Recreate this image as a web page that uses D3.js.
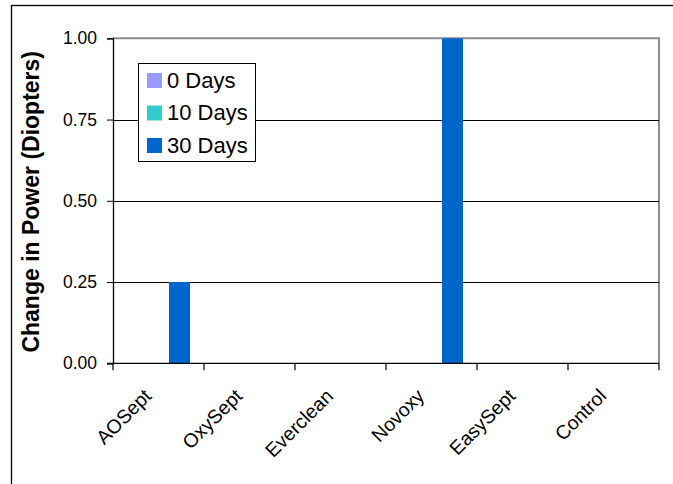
<!DOCTYPE html>
<html><head><meta charset="utf-8">
<script src="https://cdn.jsdelivr.net/npm/d3@7"></script>
<style>html,body{margin:0;padding:0;background:#fff;}svg{display:block;font-family:"Liberation Sans",Arial,sans-serif;}</style>
</head><body>
<script>
const categories = ["AOSept","OxySept","Everclean","Novoxy","EasySept","Control"];
const seriesNames = ["0 Days","10 Days","30 Days"];
const days0 = [0,0,0,0,0,0];
const days10 = [0,0,0,0,0,0];
const days30 = [0.25,0,0,1.00,0,0];
const yTicks = [0,0.25,0.5,0.75,1.0];
const colors = ["#9999ff","#33cccc","#0066cc"];
const seriesValues = [days0, days10, days30];

const W=673,H=484;
const svg=d3.select("body").append("svg").attr("width",W).attr("height",H);
svg.append("rect").attr("width",W).attr("height",H).attr("fill","#fff");
// outer frame
svg.append("rect").attr("x",11.5).attr("y",5.5).attr("width",700).attr("height",500)
  .attr("fill","none").attr("stroke","#000").attr("stroke-width",1.3);

const L=113,R=659,T=38.3,B=363.3;
const x=d3.scaleBand().domain(categories).range([L,R]).paddingInner(0).paddingOuter(0);
const xs=d3.scaleBand().domain(seriesNames).range([0,x.bandwidth()]).paddingInner(0).paddingOuter(14/21);
const y=d3.scaleLinear().domain([0,1]).range([B,T]);

// plot border top/right gray
svg.append("path").attr("d",`M${L},${T}H${R}V${B}`).attr("fill","none").attr("stroke","#8c8c8c").attr("stroke-width",2);
// gridlines
svg.append("g").selectAll("line").data(yTicks.filter(d=>d>0&&d<1)).join("line")
  .attr("x1",L).attr("x2",R).attr("y1",d=>Math.round(y(d))+0.5).attr("y2",d=>Math.round(y(d))+0.5)
  .attr("stroke","#000").attr("stroke-width",1);

// bars
const data=[];
categories.forEach((c,i)=>seriesNames.forEach((s,j)=>data.push({c,s,v:seriesValues[j][i],color:colors[j]})));
svg.append("g").selectAll("rect").data(data.filter(d=>d.v>0)).join("rect")
  .attr("x",d=>x(d.c)+xs(d.s)).attr("width",xs.bandwidth())
  .attr("y",d=>y(d.v)).attr("height",d=>B-y(d.v)).attr("fill",d=>d.color);

// y axis
const yAxis=d3.axisLeft(y).tickValues(yTicks).tickFormat(d3.format(".2f")).tickSize(6).tickPadding(10);
const ya=svg.append("g").attr("transform",`translate(${L},0)`).call(yAxis);
ya.select(".domain").attr("stroke","#000").attr("stroke-width",1.3);
ya.selectAll("text").attr("font-size",17.5).attr("fill","#000").attr("font-family","Liberation Sans, Arial");
ya.selectAll(".tick line").attr("stroke","#000");

// x axis
const xa=svg.append("g").attr("transform",`translate(0,${B})`)
  .call(d3.axisBottom(x).tickSize(0).tickFormat(""));
xa.select(".domain").remove();
svg.append("line").attr("x1",L-6).attr("x2",R).attr("y1",B).attr("y2",B).attr("stroke","#000").attr("stroke-width",1.3);
svg.append("g").selectAll("line").data(d3.range(categories.length+1)).join("line")
  .attr("x1",i=>L+i*x.step()).attr("x2",i=>L+i*x.step()).attr("y1",B).attr("y2",B+7)
  .attr("stroke","#000").attr("stroke-width",1.2);
svg.append("g").selectAll("text").data(categories).join("text")
  .attr("transform",d=>`translate(${x(d)+x.bandwidth()/2-6},${B+34}) rotate(-45)`)
  .attr("text-anchor","end").attr("font-size",19.5).attr("fill","#000").text(d=>d);

// y title
svg.append("text").attr("transform",`translate(38.5,${(T+B)/2+1}) rotate(-90)`)
  .attr("text-anchor","middle").attr("font-size",23).attr("font-weight","bold").text("Change in Power (Diopters)");

// legend
const lg=svg.append("g");
lg.append("rect").attr("x",138.5).attr("y",63.5).attr("width",117).attr("height",98)
  .attr("fill","#fff").attr("stroke","#000").attr("stroke-width",1);
seriesNames.forEach((s,j)=>{
  const by=87.5+j*32.5;
  lg.append("rect").attr("x",147).attr("y",by-14.5).attr("width",15).attr("height",15).attr("fill",colors[j]);
  lg.append("text").attr("x",167).attr("y",by).attr("font-size",22).attr("fill","#000").text(s);
});
</script>
</body></html>
